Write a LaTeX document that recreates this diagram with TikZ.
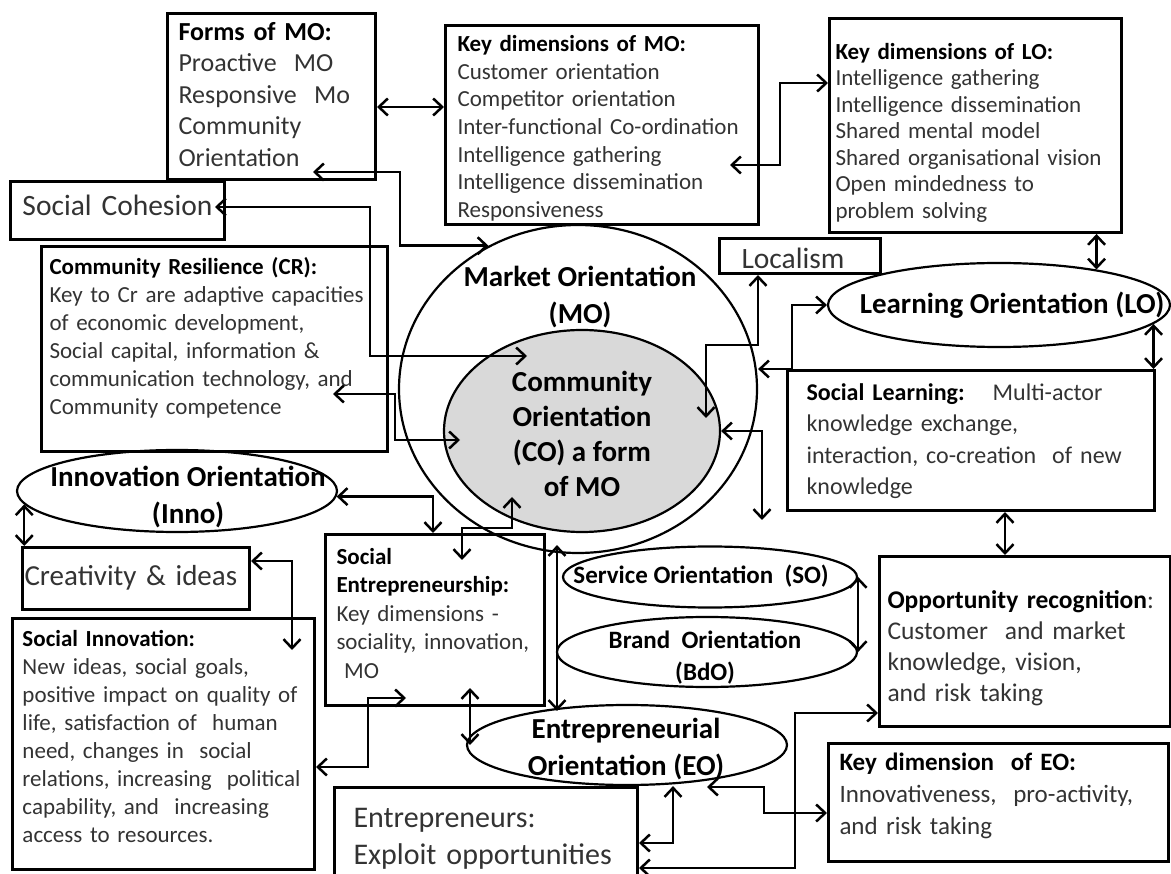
\documentclass[tikz,border=0pt]{standalone}
\usepackage{fontspec}
\setmainfont{Carlito}
\usetikzlibrary{shapes.geometric,arrows.meta}
\newcommand{\hd}[1]{{\color{black}\bfseries #1}}
\begin{document}
\begin{tikzpicture}[x=1pt,y=-1pt]
  \tikzset{
  box/.style={draw,line width=3pt,anchor=north west,align=left,inner ysep=0pt,text=black!80},
  oval/.style={draw,ellipse,line width=2.2pt,inner sep=0pt},
  lbl/.style={font=\bfseries\fontsize{29}{37}\selectfont,align=center,inner sep=0pt},
  conn/.style={line width=2.5pt,{Straight Barb[length=9pt,width=17pt]}-{Straight Barb[length=9pt,width=17pt]}},
  }
  \useasboundingbox (0,0) rectangle (1171,874);

  % the ovals
  \node[oval,minimum width=358pt,minimum height=328pt] (mo) at (578,389) {};
  \node[oval,fill=black!15,minimum width=276pt,minimum height=202pt] (co) at (582,431) {};
  \node[oval,minimum width=342pt,minimum height=84pt] (lo) at (999,305) {};
  \node[oval,minimum width=320pt,minimum height=82pt] (inno) at (177,491) {};
  \node[oval,minimum width=294pt,minimum height=61pt] (so) at (710,577) {};
  \node[oval,minimum width=300pt,minimum height=70pt] (bdo) at (707,652) {};
  \node[oval,minimum width=320pt,minimum height=80pt] (eo) at (627,745) {};

  \node[lbl] (mo-txt) at (580,297) {Market Orientation\\(MO)};
  \node[lbl,font=\bfseries\fontsize{29}{35}\selectfont] (co-txt) at (582,434) {Community\\Orientation\\(CO) a form\\of MO};
  \node[lbl] (lo-txt) at (1012,305) {Learning Orientation (LO)};
  \node[lbl] (inno-txt) at (188,497) {Innovation Orientation\\(Inno)};
  \node[lbl,font=\bfseries\fontsize{25}{32}\selectfont] (so-txt) at (701,576) {Service Orientation~ (SO)};
  \node[lbl,font=\bfseries\fontsize{25}{32}\selectfont] (bdo-txt) at (705,658) {Brand~ Orientation\\(BdO)};
  \node[lbl] (eo-txt) at (626,749) {Entrepreneurial\\Orientation (EO)};

  % the boxes
  \node[box,inner xsep=11pt,text width=186pt,text height=27pt,text depth=139pt,font=\fontsize{26}{31.5}\selectfont] (forms) at (166,12)
    {\hd{Forms of MO:}\\Proactive~ MO\\Responsive~ Mo\\Community\\Orientation};
  \node[box,inner xsep=12pt,text width=289pt,text height=26pt,text depth=173pt,font=\fontsize{23}{27.7}\selectfont] (kmo) at (444,24)
    {\hd{Key dimensions of MO:}\\Customer orientation\\Competitor orientation\\Inter-functional Co-ordination\\Intelligence gathering\\Intelligence dissemination\\Responsiveness};
  \node[box,inner xsep=6pt,text width=280pt,text height=41pt,text depth=173pt,font=\fontsize{23}{26.5}\selectfont] (klo) at (828,17)
    {\hd{Key dimensions of LO:}\\Intelligence gathering\\Intelligence dissemination\\Shared mental model\\Shared organisational vision\\Open mindedness to\\problem solving};
  \node[box,inner xsep=12pt,text width=190pt,text height=34pt,text depth=24pt,font=\fontsize{29.5}{35}\selectfont] (cohesion) at (9,180)
    {Social Cohesion};
  \node[box,inner xsep=8pt,text width=330pt,text height=28pt,text depth=177pt,font=\fontsize{23}{28}\selectfont] (cr) at (40,245)
    {\hd{Community Resilience (CR):}\\Key to Cr are adaptive capacities\\of economic development,\\Social capital, information \&\\communication technology, and\\Community competence};
  \node[box,inner xsep=22pt,text width=117pt,text height=30pt,text depth=5pt,font=\fontsize{29.5}{35}\selectfont] (localism) at (718,237)
    {Localism};
  \node[box,inner xsep=19pt,text width=329pt,text height=30pt,text depth=110pt,font=\fontsize{24}{31.5}\selectfont] (slearn) at (786,369)
    {\hd{Social Learning:}~~ Multi-actor\\knowledge exchange,\\interaction, co-creation~ of new\\knowledge};
  \node[box,inner xsep=2pt,text width=223pt,text height=38pt,text depth=24pt,font=\fontsize{29}{36}\selectfont] (creat) at (21,546)
    {Creativity \& ideas};
  \node[box,inner xsep=10pt,text width=282pt,text height=28pt,text depth=223pt,font=\fontsize{23}{28}\selectfont] (sinno) at (11,617)
    {\hd{Social Innovation:}\\New ideas, social goals,\\positive impact on quality of\\life, satisfaction of~ human\\need, changes in~ social\\relations, increasing~ political\\capability, and~ increasing\\access to resources.};
  \node[box,inner xsep=11pt,text width=197pt,text height=30pt,text depth=141pt,font=\fontsize{23}{28.5}\selectfont] (sent) at (324,533)
    {\hd{Social}\\\hd{Entrepreneurship:}\\Key dimensions -\\sociality, innovation,\\~MO};
  \node[box,inner xsep=19pt,text width=265pt,text height=40pt,text depth=60pt,font=\fontsize{30}{37}\selectfont] (entre) at (333,786)
    {Entrepreneurs:\\Exploit opportunities};
  \node[box,inner xsep=8pt,text width=275pt,text height=52pt,text depth=118pt,font=\fontsize{25.5}{31}\selectfont] (opp) at (878,555)
    {\mbox{\hd{Opportunity recognition}:}\\Customer~ and market\\knowledge, vision,\\and risk taking};
  \node[box,inner xsep=11pt,text width=318pt,text height=27pt,text depth=91pt,font=\fontsize{25}{32}\selectfont] (kdeo) at (827,742)
    {\hd{Key dimension~ of EO:}\\Innovativeness,~ pro-activity,\\and risk taking};

  % the free ends
  \coordinate (forms-in) at (313,172);
  \coordinate (kmo-in) at (730,165);
  \coordinate (cohesion-in) at (215,207);
  \coordinate (cr-in) at (333,394);
  \coordinate (co-in1) at (527,356);
  \coordinate (co-in2) at (460,440);
  \coordinate (co-in3) at (706,418);
  \coordinate (co-bot) at (512,497);
  \coordinate (sent-in1) at (462,560);
  \coordinate (sent-in2) at (406,698);
  \coordinate (sent-in3) at (470,688);
  \coordinate (sinno-in) at (292,650);
  \coordinate (co-free) at (762,520);
  \coordinate (eo-free) at (707,787);

  % the connections
  \draw[conn] (forms.east |- 0,107) -- (kmo.west |- 0,107);
  \draw[conn] (kmo-in) -- (780,165) |- (klo.west |- 0,83);
  \draw[conn] (lo.20 |- klo.south) -- (lo.20);
  \draw[conn] (forms-in) -- (400,172) |- (mo.122);
  \draw[conn] (cohesion-in) -- (370,207) |- (co-in1);
  \draw[conn] (cr-in) -- (395,394) |- (co-in2);
  \draw[conn] (inno.-2) -| (433,0 |- sent.north);
  \draw[conn] (co-bot) |- (462,528) -- (sent-in1);
  \draw[conn] ([yshift=9pt]557,0 |- mo.south) -- ([yshift=-7pt]557,0 |- eo.north);
  \draw[conn] (sent-in2) -- (368,698) |- (sinno.east |- 0,767);
  \draw[conn] (sent-in3) -- (sent-in3 |- eo.west);
  \draw[conn] (inno.185) -- (inno.185 |- creat.north);
  \draw[conn] (creat.east |- 0,561) -| (sinno-in);
  \draw[conn] (758,0 |- localism.south) |- (706,345) -- (co-in3);
  \draw[conn] (mo.east |- slearn.north) -- (792,0 |- slearn.north) |- (lo.west);
  \draw[conn] (co.east) -| (co-free);
  \draw[conn] (lo.-7) -- (lo.-7 |- slearn.north);
  \draw[conn] (1005,0 |- slearn.south) -- (1005,0 |- opp.north);
  \draw[conn] (so.east) -- (bdo.east);
  \draw[conn] (673,0 |- eo.south) |- (entre.east |- 0,843);
  \draw[conn] (eo-free) -- (764,787) |- (kdeo.west |- 0,813);
  \draw[conn] (entre.east |- 0,868) -- (795,868) |- (opp.west |- 0,713);
\end{tikzpicture}
\end{document}
